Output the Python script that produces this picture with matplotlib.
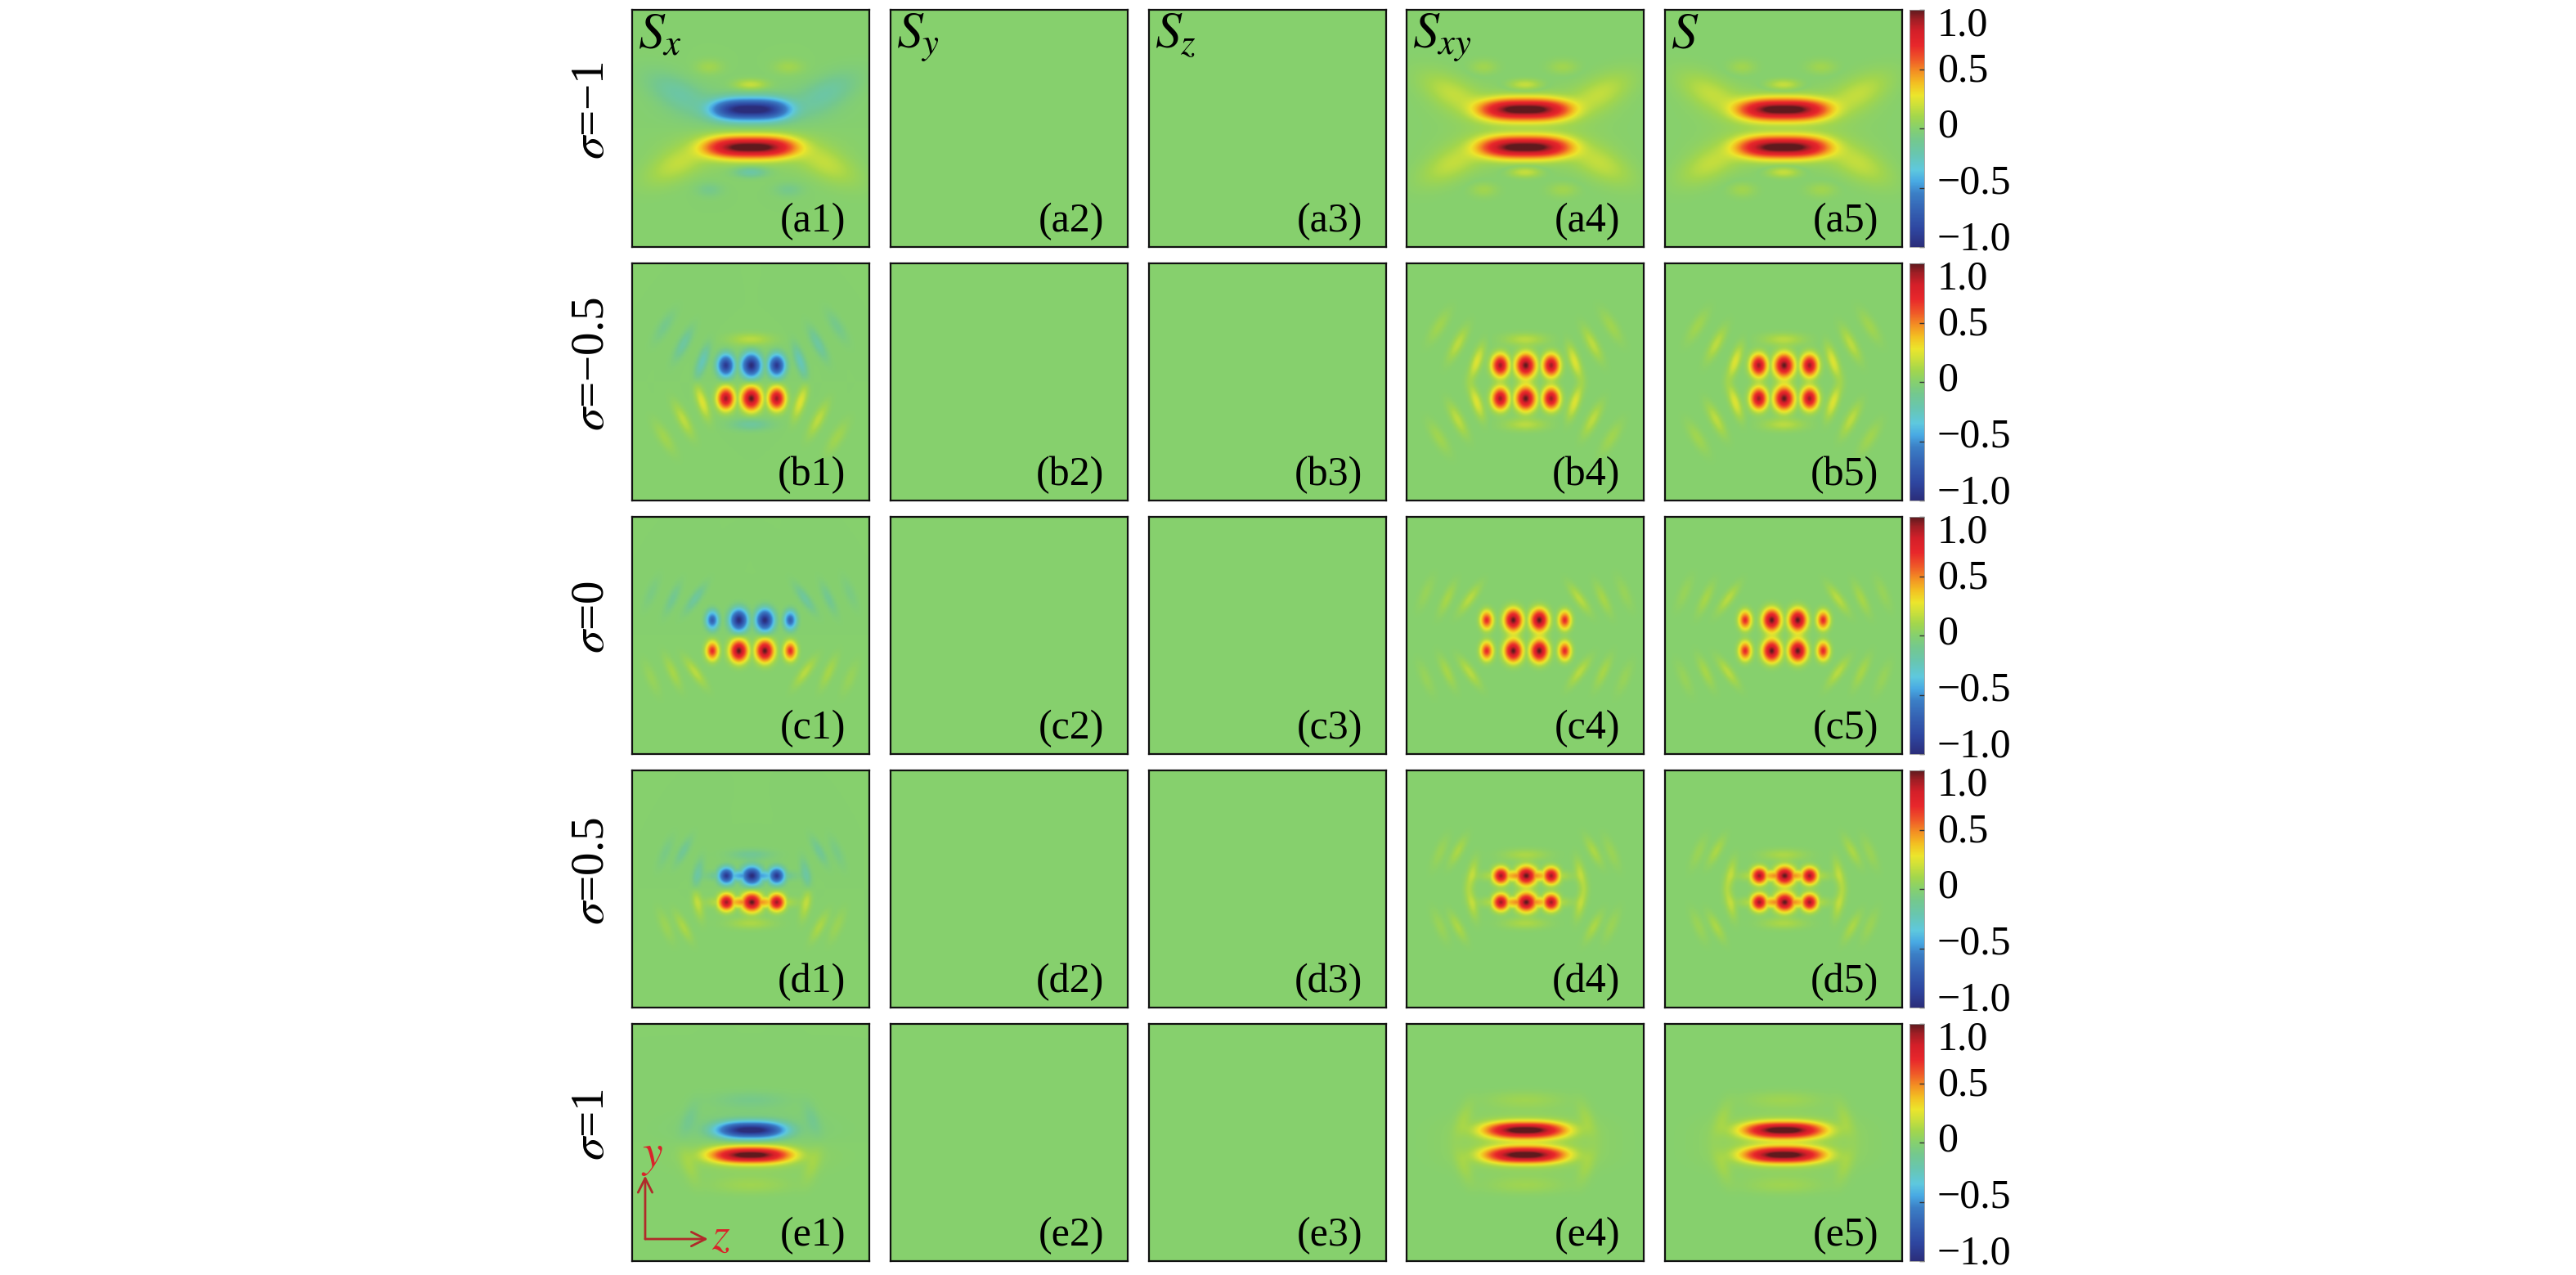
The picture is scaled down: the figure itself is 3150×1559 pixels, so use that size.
import numpy as np
import matplotlib
matplotlib.use('Agg')
import matplotlib.pyplot as plt
from matplotlib.colors import LinearSegmentedColormap, Normalize
from matplotlib.cm import ScalarMappable
from matplotlib.transforms import offset_copy

plt.rcParams['font.family'] = ['Liberation Serif', 'DejaVu Serif']
plt.rcParams['mathtext.fontset'] = 'stix'

# ---------------- data ----------------
ROW_KEYS = ['a', 'b', 'c', 'd', 'e']
ROW_LABELS = [r'$\sigma$=−1', r'$\sigma$=−0.5', r'$\sigma$=0', r'$\sigma$=0.5', r'$\sigma$=1']
COMPONENT_TITLES = [r'$S_x$', r'$S_y$', r'$S_z$', r'$S_{xy}$', r'$S$']
COMPONENT_KIND = ['signed', 'zero', 'zero', 'abs', 'abs']
CBAR_TICKS = [-1.0, -0.5, 0.0, 0.5, 1.0]
CBAR_TICKLABELS = ['−1.0', '−0.5', '0', '0.5', '1.0']

# main lobes of the lower half (y<0): (z, y, amplitude, half-width z, half-width y)
LOBES_A = [(0.00, -0.160, 1.00, 0.40, 0.100)]
LOBES_B = [(-0.21, -0.140, 0.92, 0.078, 0.102),
           (0.005, -0.140, 1.00, 0.092, 0.110),
           (0.22, -0.140, 0.92, 0.078, 0.102)]
LOBES_C = [(-0.325, -0.130, 0.70, 0.058, 0.085),
           (-0.100, -0.130, 1.00, 0.083, 0.102),
           (0.120, -0.130, 1.00, 0.083, 0.102),
           (0.335, -0.130, 0.70, 0.058, 0.085)]
LOBES_D = [(-0.205, -0.112, 0.92, 0.074, 0.076),
           (0.010, -0.112, 1.00, 0.094, 0.086),
           (0.220, -0.112, 0.92, 0.074, 0.076),
           (0.005, -0.112, 0.55, 0.285, 0.052)]
LOBES_E = [(0.00, -0.105, 1.00, 0.36, 0.074)]
LOBE_PZ = [3.0, 2.0, 2.0, 2.0, 2.6]          # z-exponent of lobe shape
TOP_WIDTH_SCALE = [0.86, 1.0, 1.0, 1.0, 0.84]  # width of upper (blue) lobe vs lower one in S_x

# weak fringes of lower half: (z, y, amplitude, half-length, half-width, angle deg)
STREAKS_A = [(-0.62, -0.30, 0.16, 0.28, 0.13, 27),
             (0.64, -0.30, 0.16, 0.28, 0.13, -27),
             (0.00, -0.16, 0.10, 0.56, 0.17, 0),
             (0.00, -0.37, -0.20, 0.14, 0.045, 0),
             (-0.35, -0.52, -0.09, 0.11, 0.06, 0),
             (0.32, -0.52, -0.09, 0.12, 0.06, 0)]
STREAKS_B = [(-0.41, -0.17, 0.24, 0.14, 0.042, -71),
             (0.42, -0.17, 0.24, 0.14, 0.042, 71),
             (-0.57, -0.32, 0.16, 0.15, 0.045, -62),
             (0.57, -0.32, 0.16, 0.15, 0.045, 62),
             (-0.73, -0.47, 0.09, 0.15, 0.05, -58),
             (0.73, -0.47, 0.09, 0.15, 0.05, 58),
             (0.00, -0.36, -0.15, 0.17, 0.050, 0)]
STREAKS_C = [(-0.47, -0.31, 0.15, 0.14, 0.040, -54),
             (0.46, -0.31, 0.15, 0.14, 0.040, 54),
             (-0.66, -0.31, 0.11, 0.14, 0.040, -65),
             (0.66, -0.31, 0.11, 0.14, 0.040, 65),
             (-0.84, -0.36, 0.06, 0.14, 0.045, -67),
             (0.84, -0.36, 0.06, 0.14, 0.045, 67)]
STREAKS_D = [(-0.45, -0.12, 0.16, 0.13, 0.040, -77),
             (0.47, -0.12, 0.16, 0.13, 0.040, 77),
             (-0.57, -0.32, 0.12, 0.13, 0.040, -61),
             (0.58, -0.32, 0.12, 0.13, 0.040, 61),
             (-0.72, -0.31, 0.07, 0.14, 0.045, -67),
             (0.73, -0.31, 0.07, 0.14, 0.045, 67),
             (0.00, -0.29, 0.12, 0.18, 0.045, 0)]
STREAKS_E = [(0.00, -0.10, 0.10, 0.50, 0.14, 0),
             (0.00, -0.36, 0.08, 0.32, 0.07, 0),
             (-0.52, -0.20, 0.08, 0.15, 0.06, -69),
             (0.52, -0.20, 0.08, 0.15, 0.06, 69)]

ROW_LOBES = [LOBES_A, LOBES_B, LOBES_C, LOBES_D, LOBES_E]
ROW_STREAKS = [STREAKS_A, STREAKS_B, STREAKS_C, STREAKS_D, STREAKS_E]

# colour scale (value -> colour)
CMAP_VALUES = [-1.0, -0.85, -0.7, -0.55, -0.45, -0.35, -0.22, -0.1, 0.0,
               0.1, 0.2, 0.28, 0.38, 0.48, 0.58, 0.7, 0.82, 0.92, 1.0]
CMAP_COLORS = ['#2b2d7a', '#2e46a0', '#3460b2', '#3b7fc6', '#48a9e3', '#5ec8de',
               '#68c6b0', '#74c88e', '#86d06e', '#a3d64c', '#cde03a', '#ece52c',
               '#f3c022', '#f39023', '#ef5a28', '#e8272b', '#d41f29', '#a01e25',
               '#5e1a1e']

# ---------------- field construction ----------------
N = 321
zz = np.linspace(-1, 1, N)
Z, Y = np.meshgrid(zz, zz)


def lobe_field(lobes, pz, wscale=1.0, mirror=False):
    yy = -Y if mirror else Y
    out = np.zeros_like(Z)
    for z0, y0, a, wz, wy in lobes:
        r2 = (np.abs(Z - z0) / (wz * wscale)) ** pz + ((yy - y0) / wy) ** 2
        shape = 0.8 * np.exp(-r2 ** 1.3) + 0.2 * np.exp(-r2 / 0.12)
        out = np.maximum(out, a * shape)
    return out


def streak_field(streaks, mirror=False):
    yy = -Y if mirror else Y
    out = np.zeros_like(Z)
    for z0, y0, a, L, Wd, ang in streaks:
        t = np.radians(ang)
        dz, dy = Z - z0, yy - y0
        u = dz * np.cos(t) + dy * np.sin(t)
        v = -dz * np.sin(t) + dy * np.cos(t)
        out += a * np.exp(-(u / L) ** 2 - (v / Wd) ** 2)
    return out


def panel_field(r, kind):
    if kind == 'zero':
        return np.zeros_like(Z)
    lobes, streaks, pz = ROW_LOBES[r], ROW_STREAKS[r], LOBE_PZ[r]
    low = lobe_field(lobes, pz)
    if kind == 'signed':
        up = lobe_field(lobes, pz, TOP_WIDTH_SCALE[r], mirror=True)
        f = low - up + streak_field(streaks) - streak_field(streaks, mirror=True)
    else:
        up = lobe_field(lobes, pz, 1.0, mirror=True)
        f = low + up + np.abs(streak_field(streaks)) + np.abs(streak_field(streaks, mirror=True))
    return np.clip(f, -1, 1)


cmap = LinearSegmentedColormap.from_list(
    'fieldmap', [((v + 1) / 2, c) for v, c in zip(CMAP_VALUES, CMAP_COLORS)], N=512)
norm = Normalize(-1, 1)

# ---------------- layout ----------------
W, H = 3150, 1559
fig = plt.figure(figsize=(W / 100, H / 100), dpi=100)
COL_LEFT = [773, 1089, 1405, 1720, 2036]
ROW_TOP = [12, 322, 632, 942, 1252]
PW = 290
CB_LEFT, CB_W = 2335, 18
# baseline shift (pixels, downwards) of each colour-bar label relative to its tick
CB_LABEL_DROP = [3, 7, 11, 15, 31]


def fr(x, y, w, h):
    return [x / W, 1 - (y + h) / H, w / W, h / H]


for r, key in enumerate(ROW_KEYS):
    for c in range(5):
        ax = fig.add_axes(fr(COL_LEFT[c], ROW_TOP[r], PW, PW))
        ax.imshow(panel_field(r, COMPONENT_KIND[c]), cmap=cmap, norm=norm,
                  extent=[-1, 1, -1, 1], origin='lower', aspect='auto',
                  interpolation='bilinear')
        ax.set_xticks([])
        ax.set_yticks([])
        for sp in ax.spines.values():
            sp.set_linewidth(1.6)
            sp.set_color('#111111')
        ax.text(0.9, 0.028, f'({key}{c + 1})', transform=ax.transAxes,
                ha='right', va='bottom', fontsize=36)
        if r == 0:
            ax.text(0.025, 0.99, COMPONENT_TITLES[c], transform=ax.transAxes,
                    ha='left', va='top', fontsize=46)
        if r == 4 and c == 0:
            arrow_kw = dict(arrowstyle='->,head_length=0.5,head_width=0.25',
                            color='#b02a2a', lw=2, mutation_scale=25,
                            shrinkA=0, shrinkB=0)
            ax.annotate('', xy=(0.055, 0.36), xytext=(0.055, 0.093),
                        xycoords='axes fraction', arrowprops=arrow_kw)
            ax.annotate('', xy=(0.32, 0.093), xytext=(0.055, 0.093),
                        xycoords='axes fraction', arrowprops=arrow_kw)
            ax.text(0.085, 0.44, r'$y$', transform=ax.transAxes, color='#d9232a',
                    ha='center', va='center', fontsize=40)
            ax.text(0.375, 0.10, r'$z$', transform=ax.transAxes, color='#d9232a',
                    ha='center', va='center', fontsize=40)

    # colorbar for the row
    cax = fig.add_axes(fr(CB_LEFT, ROW_TOP[r], CB_W, PW))
    cb = fig.colorbar(ScalarMappable(norm=norm, cmap=cmap), cax=cax)
    cb.outline.set_linewidth(0.6)
    cb.outline.set_edgecolor('#999999')
    cb.set_ticks(CBAR_TICKS, labels=[''] * len(CBAR_TICKS))
    cax.tick_params(direction='in', length=4, width=1, color='#333333')
    for val, lab, drop in zip(CBAR_TICKS, CBAR_TICKLABELS, CB_LABEL_DROP):
        tr = offset_copy(cax.get_yaxis_transform(), fig=fig, x=16, y=-drop, units='dots')
        cax.text(1.0, val, lab, transform=tr, ha='left', va='baseline',
                 fontsize=36, clip_on=False)

    # row label
    yc = ROW_TOP[r] + PW / 2 - 22
    fig.text(724 / W, 1 - yc / H, ROW_LABELS[r], rotation=90,
             ha='center', va='center', fontsize=41)

fig.savefig('out.png', dpi=100)
